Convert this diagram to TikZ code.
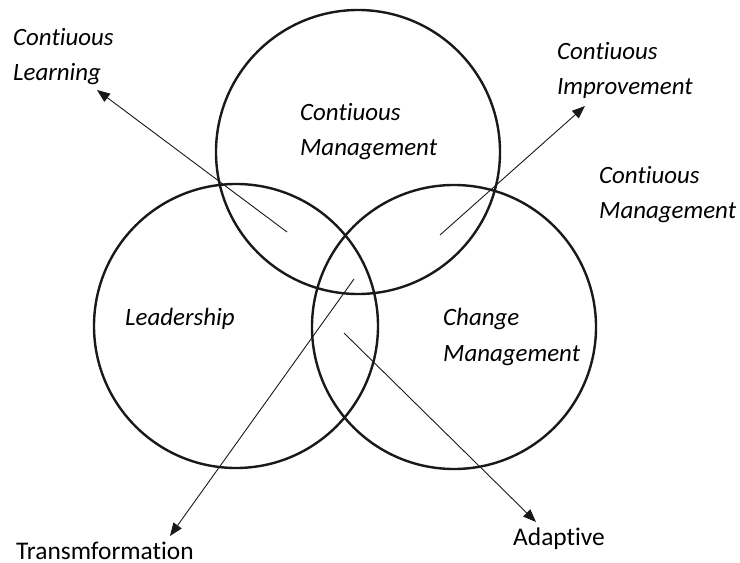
\documentclass[tikz,border=0pt]{standalone}
\usepackage{fontspec}
\setmainfont{Carlito}[Ligatures=NoCommon]
\usetikzlibrary{arrows.meta}
\begin{document}
\begin{tikzpicture}[x=1bp,y=-1bp,
  ring/.style={draw=black!90, line width=2.4bp},
  lbl/.style={inner sep=0pt, anchor=base west, align=left, font=\fontsize{25}{36}\selectfont\itshape},
  plain/.style={inner sep=0pt, anchor=base west, text depth=0pt, font=\fontsize{25.5}{36}\selectfont},
  conn/.style={draw=black!90, line width=0.9bp, -{Triangle[length=13bp,width=10bp]}}]
\useasboundingbox (0,0) rectangle (740,563);
% circles
\node[ring, circle, minimum size=284bp, inner sep=0pt] (top) at (358,152) {};
\node[ring, circle, minimum size=284bp, inner sep=0pt] (left) at (236,326) {};
\node[ring, circle, minimum size=284bp, inner sep=0pt] (right) at (454,327) {};
% labels (base = last line)
\node[lbl] (cl) at (13,81) {Contiuous\\Learning};
\node[lbl] (cmtop) at (300,156) {Contiuous\\Management};
\node[lbl] (ci) at (557,95) {Contiuous\\Improvement};
\node[lbl] (cmr) at (599,219) {Contiuous\\Management};
\node[lbl] (lead) at (125,325) {Leadership};
\node[lbl] (chg) at (443,361) {Change\\Management};
\node[plain] (trans) at (16,559) {Transmformation};
\node[plain] (adapt) at (513,545) {Adaptive};
% connector ends
\coordinate (t1) at (287,232); \coordinate (h1) at (97,90);
\coordinate (t2) at (440,235); \coordinate (h2) at (585,106);
\coordinate (t3) at (354,279); \coordinate (h3) at (170,536);
\coordinate (t4) at (344,333); \coordinate (h4) at (536,522);
\draw[conn] (t1) -- (h1);
\draw[conn] (t2) -- (h2);
\draw[conn] (t3) -- (h3);
\draw[conn] (t4) -- (h4);
\end{tikzpicture}
\end{document}
